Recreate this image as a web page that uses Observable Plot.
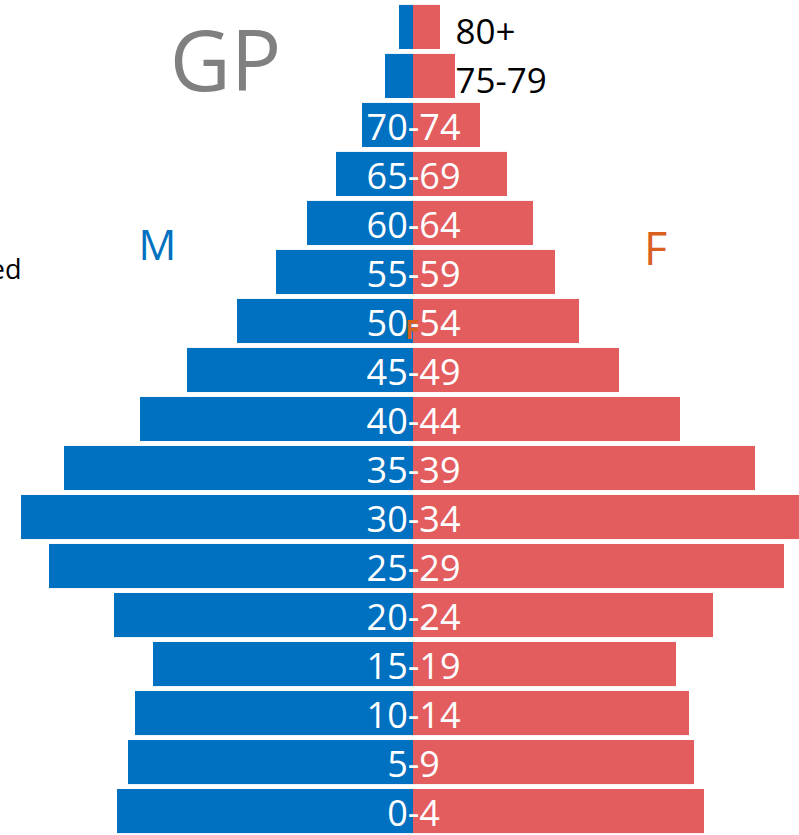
<!DOCTYPE html>
<html>
<head>
<meta charset="utf-8">
<script src="https://cdn.jsdelivr.net/npm/d3@7"></script>
<script src="https://cdn.jsdelivr.net/npm/@observablehq/plot@0.6"></script>
<style>
  html, body { margin: 0; padding: 0; background: #fff; overflow: hidden; }
  #chart svg { display: block; }
</style>
</head>
<body>
<div id="chart"></div>
<script>
// Age groups, top to bottom
const ages = ["80+","75-79","70-74","65-69","60-64","55-59","50-54","45-49","40-44","35-39","30-34","25-29","20-24","15-19","10-14","5-9","0-4"];
// Estimated population values (arbitrary units)
const male   = [14, 28, 51, 77, 106, 137, 176, 226, 273, 349, 392, 364, 299, 260, 278, 285, 296];
const female = [27, 42, 67, 94, 120, 142, 166, 206, 267, 342, 386, 371, 300, 263, 276, 281, 291];
const outsideLabels = ["80+", "75-79"];

const data = ages.map((a, i) => ({age: a, male: male[i], female: female[i]}));

const font = "'Open Sans', 'Segoe UI', sans-serif";
const blue = "#0070C0";
const red = "#E35D5F";
const orange = "#D9601E";

const chart = Plot.plot({
  width: 799,
  height: 835,
  marginLeft: 0,
  marginRight: 0,
  marginTop: 0,
  marginBottom: 0,
  style: {fontFamily: font, background: "#fff"},
  x: {domain: [-413, 386], axis: null},
  y: {domain: ages, axis: null, padding: 0.1, round: false, range: [0, 838]},
  marks: [
    Plot.barX(data, {y: "age", x1: 0, x2: d => -d.male, fill: blue, inset: 0}),
    Plot.barX(data, {y: "age", x1: 0, x2: d => d.female, fill: red, inset: 0}),
    Plot.text(data.filter(d => !outsideLabels.includes(d.age)), {
      y: "age", x: 0, text: "age", fill: "white", fontSize: 36, dy: 3, textAnchor: "middle"
    }),
    Plot.text(data.filter(d => outsideLabels.includes(d.age)), {
      y: "age", x: 0, text: "age", fill: "black", fontSize: 35, dy: 5, dx: 42, textAnchor: "start"
    }),
    Plot.text(["GP"], {frameAnchor: "top-left", text: d => d, dx: 225, dy: 90, fontSize: 84, fill: "#808080", textAnchor: "middle", lineAnchor: "bottom"}),
    Plot.text(["M"], {frameAnchor: "top-left", text: d => d, dx: 157, dy: 259, fontSize: 42, fill: blue, textAnchor: "middle", lineAnchor: "bottom"}),
    Plot.text(["F"], {frameAnchor: "top-left", text: d => d, dx: 655, dy: 264, fontSize: 45, fill: orange, textAnchor: "middle", lineAnchor: "bottom"}),
    Plot.text(["F"], {frameAnchor: "top-left", text: d => d, dx: 412, dy: 338, fontSize: 26, fontWeight: "bold", fill: orange, textAnchor: "middle", lineAnchor: "bottom"}),
    Plot.text(["Estimated"], {frameAnchor: "top-left", text: d => d, dx: 21, dy: 278, fontSize: 27, fill: "black", textAnchor: "end", lineAnchor: "bottom"})
  ]
});
document.getElementById("chart").appendChild(chart);
</script>
</body>
</html>
